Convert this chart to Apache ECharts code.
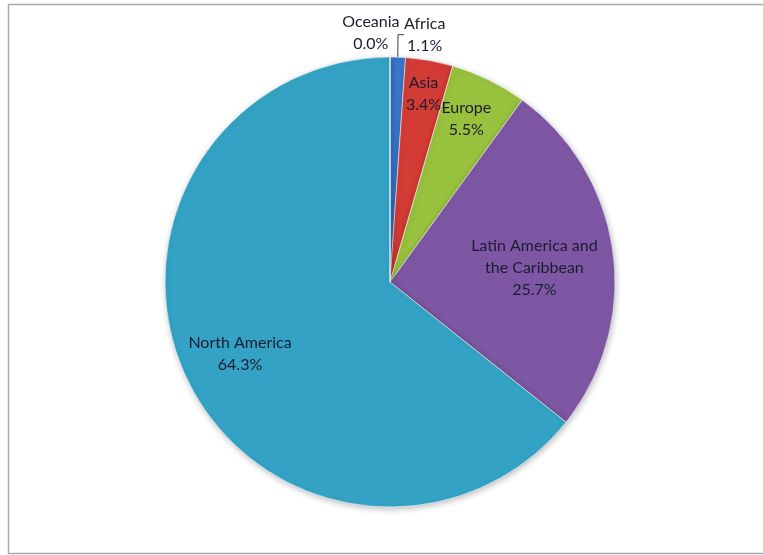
<!DOCTYPE html>
<html>
<head>
    <meta charset="utf-8">
    <title>Pie by region</title>
    <script src="https://cdn.jsdelivr.net/npm/echarts@6/dist/echarts.min.js"></script>
    <style>
        html, body {
            margin: 0;
            padding: 0;
            background-color: #ffffff;
        }

        #main {
            width: 763px;
            height: 555px;
        }
    </style>
</head>
<body>
    <div id="main"></div>
    <script type="text/javascript">
        // data, clockwise from 12 o'clock
        const regions = ['Africa', 'Asia', 'Europe', 'Latin America and\nthe Caribbean', 'North America', 'Oceania'];
        const shares = [1.1, 3.4, 5.5, 25.7, 64.3, 0.0];
        const sliceColors = ['#3a79cf', '#d33b35', '#98c13d', '#7e57a4', '#33a2c4', '#8c8c8c'];

        // label placement around the pie (radius factor, angle nudge in degrees)
        const labelReach = [1.11, 0.85, 0.80, 0.645, 0.74, 1.11];
        const labelTurn = [6, 0, -1, 2, 0, -4.4];

        const cx = 390, cy = 282, R = 225;

        // mid angle of each slice as a fraction of the full turn
        const total = shares.reduce(function (a, b) { return a + b; }, 0);
        const midFrac = [];
        let acc = 0;
        shares.forEach(function (v) {
            midFrac.push((acc + v / 2) / total);
            acc += v;
        });

        const chart = echarts.init(document.getElementById('main'));
        const option = {
            backgroundColor: '#ffffff',
            animation: false,
            graphic: [{
                type: 'rect',
                shape: { x: 8.5, y: 4.5, width: 800, height: 549 },
                style: { fill: null, stroke: '#a9a9a9', lineWidth: 1.5 },
                silent: true
            }],
            series: [{
                type: 'pie',
                center: [cx, cy],
                radius: [0, R],
                startAngle: 90,
                clockwise: true,
                percentPrecision: 1,
                data: regions.map(function (name, i) {
                    const outside = shares[i] < 2;
                    return {
                        name: name,
                        value: shares[i],
                        itemStyle: { color: sliceColors[i] },
                        label: { position: outside ? 'outside' : 'inside' },
                        labelLine: {
                            show: name === 'Africa',
                            length: 6,
                            length2: 6,
                            lineStyle: { color: '#404040', width: 1 }
                        }
                    };
                }),
                itemStyle: {
                    borderColor: 'rgba(255,255,255,0.55)',
                    borderWidth: 1,
                    shadowBlur: 6,
                    shadowColor: 'rgba(0,0,0,0.25)',
                    shadowOffsetX: 1,
                    shadowOffsetY: 2
                },
                label: {
                    show: true,
                    color: '#1c1c30',
                    fontFamily: 'Lato',
                    fontSize: 16,
                    lineHeight: 22,
                    align: 'center',
                    formatter: function (p) {
                        return p.name + '\n' + Number(p.value).toFixed(1) + '%';
                    }
                },
                labelLayout: function (p) {
                    const i = p.dataIndex;
                    const a = (midFrac[i] * 360 + labelTurn[i]) * Math.PI / 180;
                    const rr = R * labelReach[i];
                    return {
                        x: cx + rr * Math.sin(a),
                        y: cy - rr * Math.cos(a),
                        align: 'center',
                        verticalAlign: 'middle'
                    };
                },
                emphasis: { disabled: true }
            }]
        };
        chart.setOption(option);

        window.addEventListener('resize', function () {
            chart.resize();
        });
    </script>
</body>
</html>
